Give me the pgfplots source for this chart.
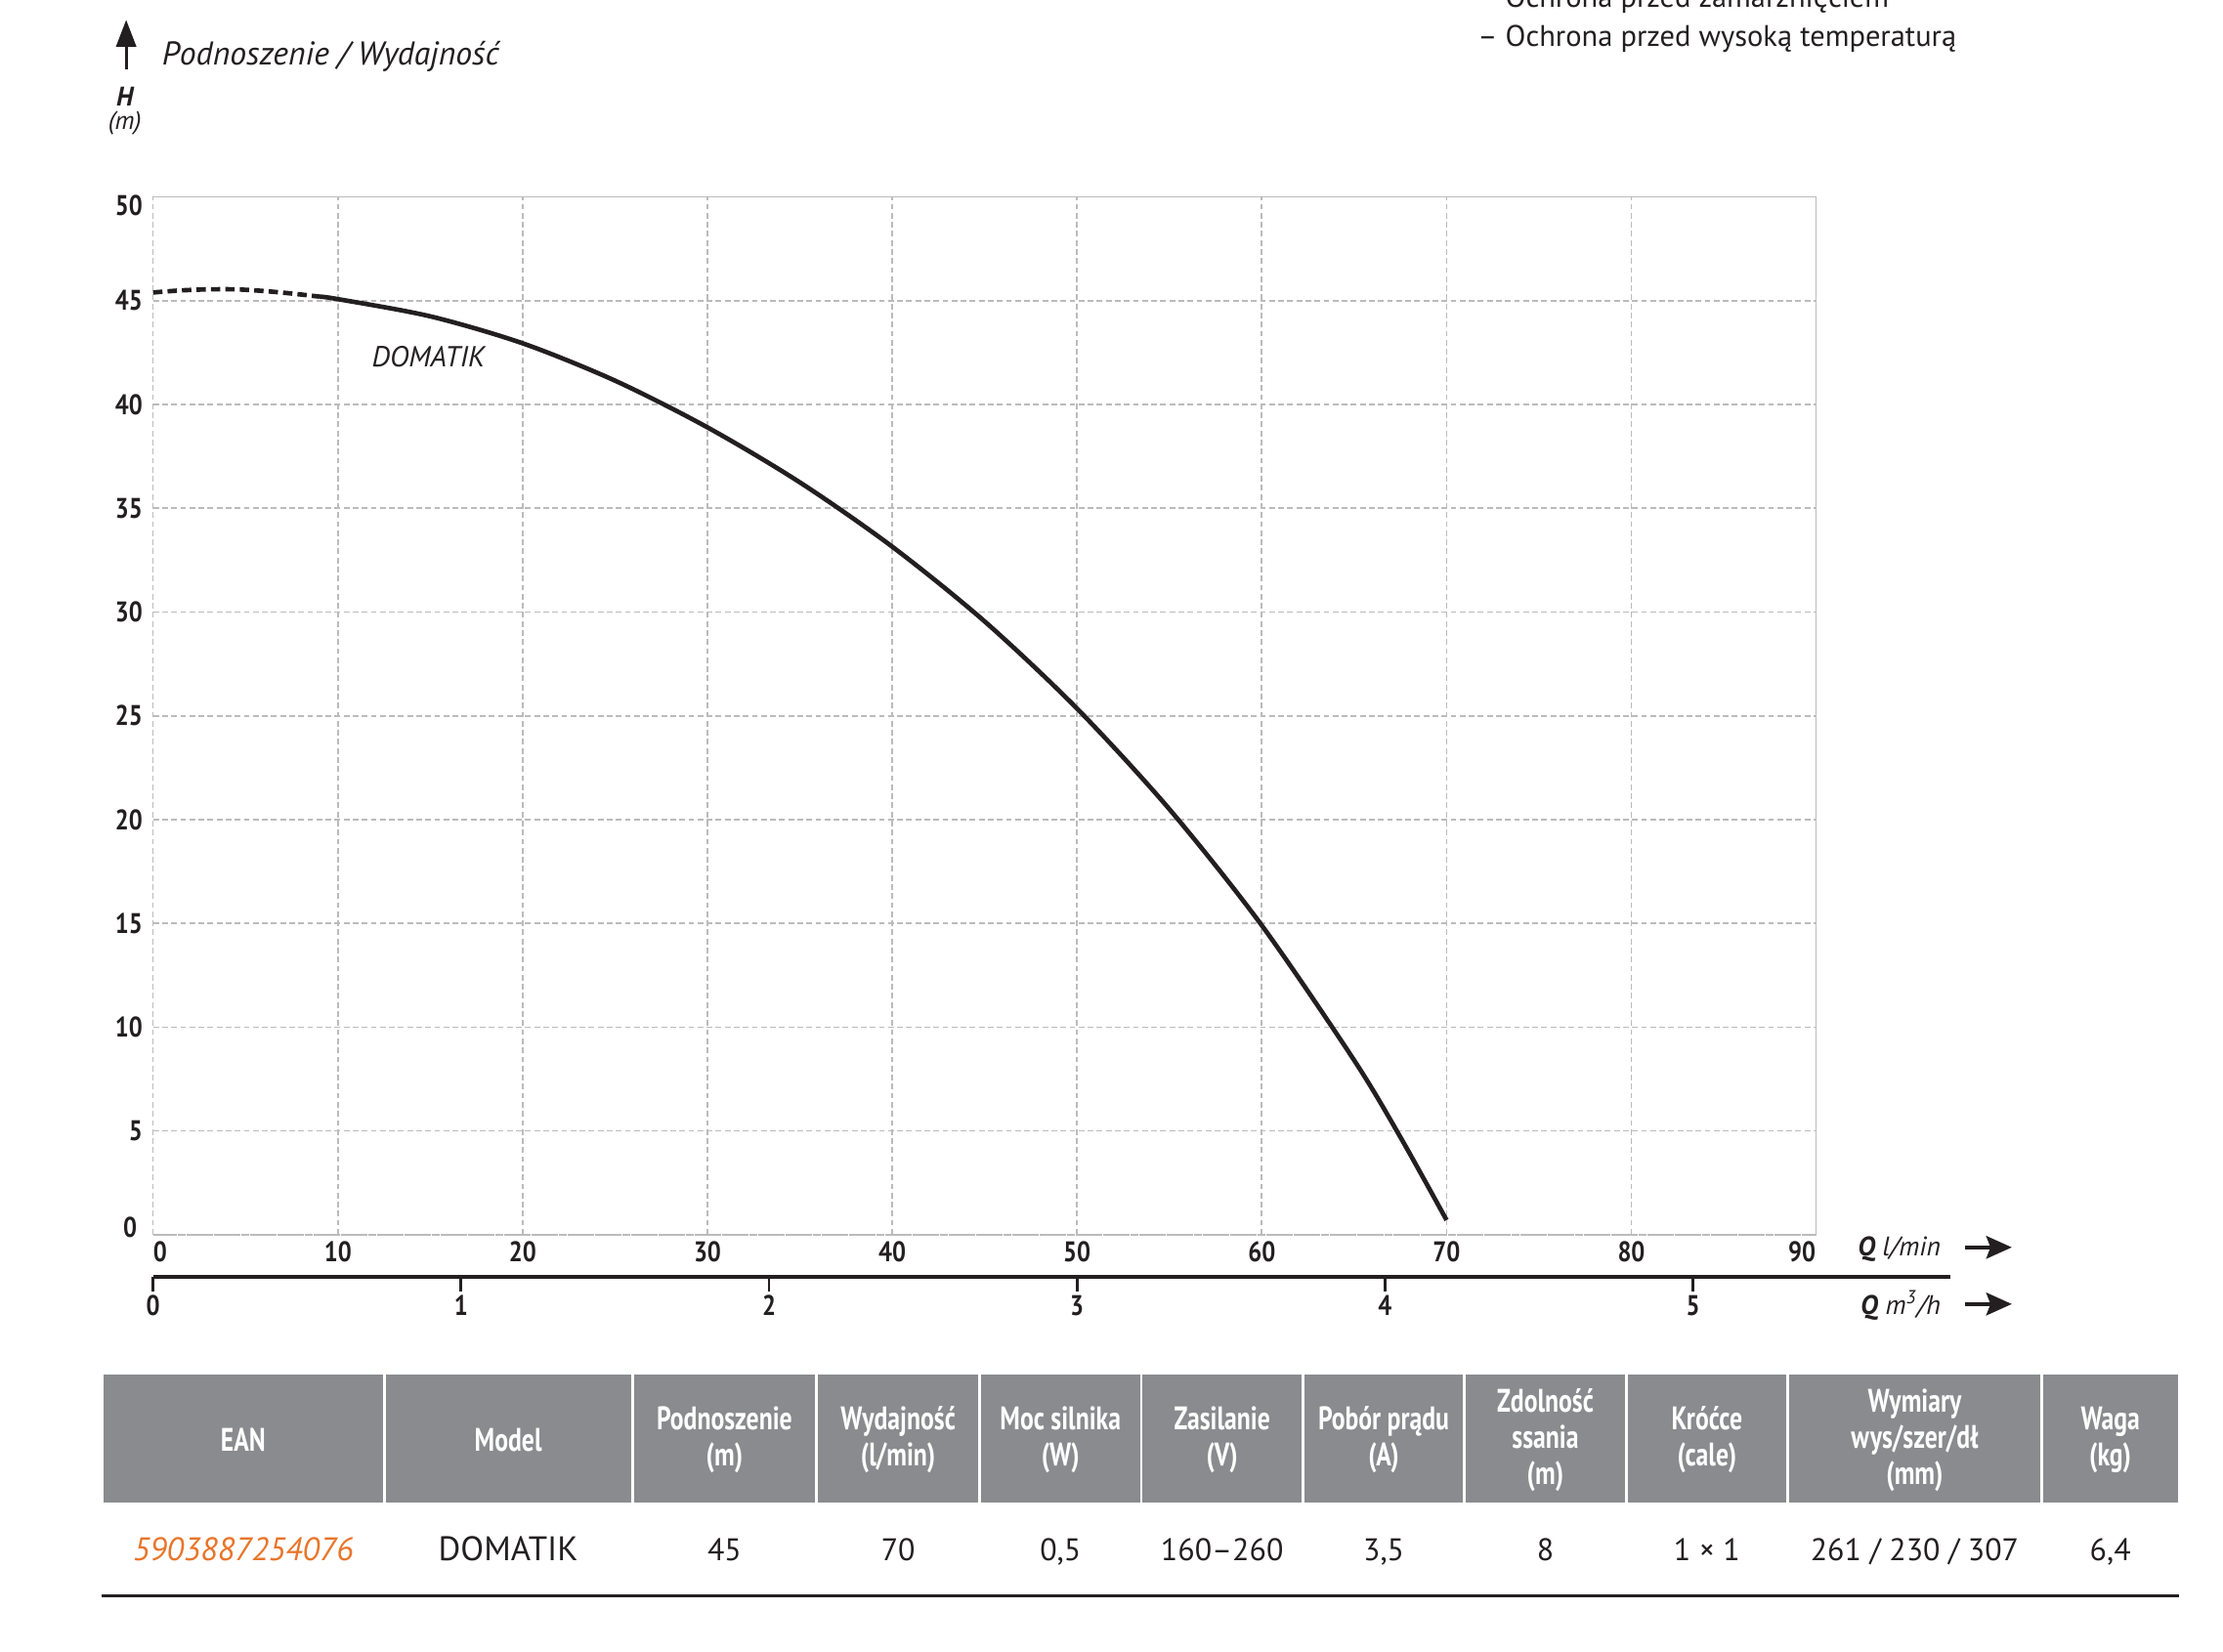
\documentclass[border=0pt]{standalone}
\usepackage{pgfplots}
\pgfplotsset{compat=1.18}
\usepackage{fontspec}
\setmainfont{PT Sans}
\newfontfamily\cond[FakeStretch=0.77]{PT Sans}
\newfontfamily\condt[FakeStretch=0.85]{PT Sans}
\usetikzlibrary{arrows.meta}
\definecolor{ink}{HTML}{231F20}
\definecolor{hdr}{HTML}{898B8E}
\definecolor{ean}{HTML}{E8752A}
\definecolor{gridc}{HTML}{BBBBBB}
\begin{document}
\begin{tikzpicture}[x=0.5pt,y=-0.5pt]
\path[use as bounding box] (0,0) rectangle (1568,1165);

% main chart
\begin{axis}[
  at={(54pt,-435.5pt)}, anchor=south west,
  width=586.5pt, height=366pt, scale only axis,
  xmin=0, xmax=90, ymin=0, ymax=50,
  xtick={0,10,...,90}, ytick={0,5,...,50},
  xticklabels={\hspace*{5pt}0,10,20,30,40,50,60,70,80,\hspace*{-10pt}90},
  yticklabels={\raisebox{-0.8pt}[0pt][0pt]{0\hspace*{2pt}},5,10,15,20,25,30,35,40,45,\raisebox{-6.5pt}[0pt][0pt]{50}},
  grid=major,
  major grid style={gridc, line width=0.55pt, dash pattern=on 2pt off 1.2pt},
  axis line style={gridc, line width=0.55pt, dash pattern=on 2pt off 1.2pt},
  major tick length=0pt,
  tick label style={font=\condt\bfseries\fontsize{10}{11}\selectfont, text=ink},
  xticklabel style={anchor=center, yshift=-6pt},
  yticklabel style={anchor=east, inner sep=0pt, xshift=-3.5pt},
]
\addplot[ink, line width=1.6pt, dash pattern=on 3.3pt off 1.8pt, smooth] coordinates {
 (0,45.4) (1.5,45.5) (3,45.55) (4.5,45.55) (6,45.47) (7.5,45.35) (9,45.2)
};
\addplot[ink, line width=1.6pt, smooth] coordinates {
 (9,45.2) (10,45.08) (15,44.25) (20,42.95) (25,41.15) (30,38.9) (35,36.25)
 (40,33.15) (45,29.55) (50,25.35) (55,20.5) (60,14.9) (65,8.4) (67.5,4.7) (70,0.7)
};
\node[font=\itshape\fontsize{10.2}{12}\selectfont, text=ink] at (axis cs:14.9,42.3) {DOMATIK};
\end{axis}

% secondary Q m3/h scale
\begin{axis}[
  at={(54pt,-450.5pt)}, anchor=south west,
  width=634pt, height=20pt, scale only axis,
  xmin=0, xmax=5.8374, ymin=0, ymax=1,
  hide y axis, axis x line*=bottom,
  axis line style={ink, line width=1.3pt, -},
  xtick={0,1,2,3,4,5}, xticklabels={0,1,2,3,4,5},
  tick align=outside, major tick length=5pt,
  xtick style={ink, line width=1pt},
  tick label style={font=\condt\bfseries\fontsize{10}{11}\selectfont, text=ink},
  xticklabel style={anchor=center, yshift=-5pt},
]
\addplot[draw=none] coordinates {(0,0) (5,0)};
\end{axis}

% titles and annotations
\draw[ink, line width=1pt, -{Triangle[length=9.5pt,width=7pt]}] (89,49) -- (89,14);
\node[anchor=base west, inner sep=0pt, font=\itshape\fontsize{11.6}{14}\selectfont, text=ink] at (114,46) {Podnoszenie / Wydajność};
\node[inner sep=0pt, font=\bfseries\itshape\fontsize{9.5}{11}\selectfont, text=ink] at (88,68) {H};
\node[inner sep=0pt, font=\itshape\fontsize{9}{11}\selectfont, text=ink] at (88,87) {(m)};
\node[anchor=base west, inner sep=0pt, font=\fontsize{10.5}{12}\selectfont, text=ink] at (1042,5) {– Ochrona przed zamarznięciem};
\node[anchor=base west, inner sep=0pt, font=\fontsize{10.5}{12}\selectfont, text=ink] at (1042,33) {– Ochrona przed wysoką temperaturą};

\node[anchor=west, inner sep=0pt, font=\fontsize{9.5}{11}\selectfont, text=ink] at (1310,881) {\textbf{\textit{Q}} \textit{l/min}};
\draw[ink, line width=1.2pt, -{Stealth[length=9pt,width=8pt,inset=1.5pt]}] (1386,880) -- (1419,880);
\node[anchor=west, inner sep=0pt, font=\fontsize{9.5}{11}\selectfont, text=ink] at (1312,921) {\textbf{\textit{Q}} \textit{m\textsuperscript{3}/h}};
\draw[ink, line width=1.2pt, -{Stealth[length=9pt,width=8pt,inset=1.5pt]}] (1386,920) -- (1419,920);

% table
\foreach \a/\b in {72/271,271/446,446/576,576/691,691/805,805/919,919/1033,1033/1147,1147/1261,1261/1440,1440/1537}{
  \fill[hdr] ({\a+1},970) rectangle ({\b-1},1060);
}
\tikzset{hd/.style={align=center, text=white, inner sep=0pt, font=\cond\bfseries\fontsize{11.5}{12.75}\selectfont}}
\node[hd] at (171.5,1016) {EAN};
\node[hd] at (358.5,1016) {Model};
\node[hd] at (511,1016) {Podnoszenie\\(m)};
\node[hd] at (633.5,1016) {Wydajność\\(l/min)};
\node[hd] at (748,1016) {Moc silnika\\(W)};
\node[hd] at (862,1016) {Zasilanie\\(V)};
\node[hd] at (976,1016) {Pobór prądu\\(A)};
\node[hd] at (1090,1016) {Zdolność\\ssania\\(m)};
\node[hd] at (1204,1016) {Króćce\\(cale)};
\node[hd] at (1350.5,1016) {Wymiary\\wys/szer/dł\\(mm)};
\node[hd] at (1488.5,1016) {Waga\\(kg)};

\tikzset{dt/.style={anchor=base, inner sep=0pt, text=ink, font=\fontsize{11}{13}\selectfont}}
\node[dt, text=ean, font=\itshape\fontsize{11.5}{13}\selectfont] at (171.5,1101) {5903887254076};
\node[dt, font=\fontsize{12}{13}\selectfont] at (358.5,1101) {DOMATIK};
\node[dt] at (511,1101) {45};
\node[dt] at (633.5,1101) {70};
\node[dt] at (748,1101) {0,5};
\node[dt] at (862,1101) {160–260};
\node[dt] at (976,1101) {3,5};
\node[dt] at (1090,1101) {8};
\node[dt] at (1204,1101) {1 × 1};
\node[dt] at (1350.5,1101) {261 / 230 / 307};
\node[dt] at (1488.5,1101) {6,4};
\draw[ink, line width=1.1pt] (72,1126) -- (1537,1126);
\end{tikzpicture}
\end{document}
